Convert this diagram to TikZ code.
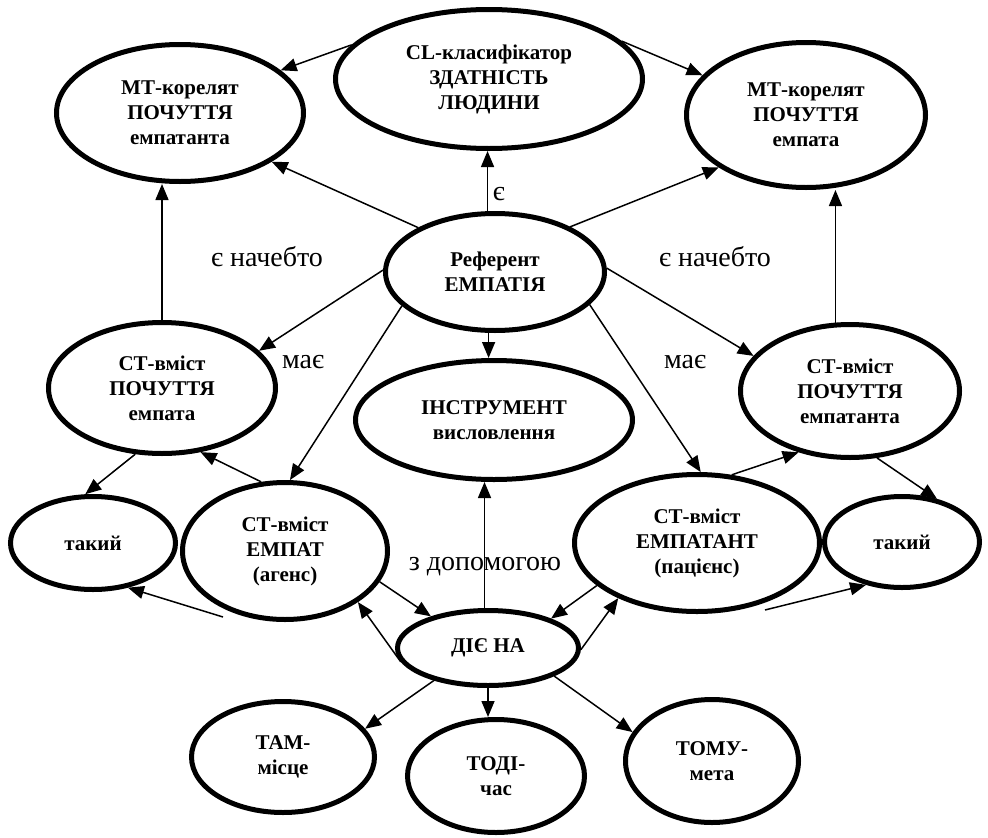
\documentclass[tikz,border=0pt]{standalone}
\usepackage{fontspec}
\setmainfont{Liberation Serif}
\usetikzlibrary{shapes.geometric,arrows.meta}
\begin{document}
\begin{tikzpicture}[x=1pt,y=-1pt,
  oval/.style={ellipse,draw,line width=5pt,inner sep=0pt,align=center,
    font=\bfseries\fontsize{21}{25}\selectfont},
  arr/.style={line width=1.5pt,-{Triangle[length=16pt,width=13pt]}},
  lbl/.style={font=\fontsize{28}{32}\selectfont,anchor=base,inner sep=0pt}]
\useasboundingbox (0,0) rectangle (988,838);

% concepts
\node[oval,minimum width=307pt,minimum height=139pt] (cl) at (489,79) {CL-класифікатор\\ЗДАТНІСТЬ\\ЛЮДИНИ};
\node[oval,minimum width=247pt,minimum height=137pt] (mtl) at (180,113) {МТ-корелят\\ПОЧУТТЯ\\емпатанта};
\node[oval,minimum width=239pt,minimum height=145pt] (mtr) at (806,115) {МТ-корелят\\ПОЧУТТЯ\\емпата};
\node[oval,minimum width=219pt,minimum height=117pt] (ref) at (495,272) {Референт\\ЕМПАТІЯ};
\node[oval,minimum width=227pt,minimum height=131pt] (stl) at (162,388) {СТ-вміст\\ПОЧУТТЯ\\емпата};
\node[oval,minimum width=277pt,minimum height=119pt] (ins) at (494,420) {ІНСТРУМЕНТ\\висловлення};
\node[oval,minimum width=219pt,minimum height=133pt] (str) at (850,391) {СТ-вміст\\ПОЧУТТЯ\\емпатанта};
\node[oval,minimum width=165pt,minimum height=93pt] (takl) at (93,543) {такий};
\node[oval,minimum width=205pt,minimum height=137pt] (agens) at (285,551) {СТ-вміст\\ЕМПАТ\\(агенс)};
\node[oval,minimum width=245pt,minimum height=137pt] (pats) at (697,543) {СТ-вміст\\ЕМПАТАНТ\\(пацієнс)};
\node[oval,minimum width=155pt,minimum height=91pt] (takr) at (902,542) {такий};
\node[oval,minimum width=181pt,minimum height=75pt] (die) at (488,648) {ДІЄ НА};
\node[oval,minimum width=183pt,minimum height=111pt] (tam) at (283,757) {ТАМ-\\місце};
\node[oval,minimum width=177pt,minimum height=113pt] (todi) at (496,776) {ТОДІ-\\час};
\node[oval,minimum width=173pt,minimum height=123pt] (tomu) at (712,761) {ТОМУ-\\мета};

% relation labels
\node[lbl] (l1) at (267,266) {є начебто};
\node[lbl] (l2) at (715,266) {є начебто};
\node[lbl] (l3) at (303,368) {має};
\node[lbl] (l4) at (685,368) {має};
\node[lbl] (l5) at (485,570) {з допомогою};
\node[lbl] (l6) at (499,200) {є};

% loose ends of the two arrows to "такий"
\coordinate (tl) at (223,617);
\coordinate (tr) at (765,610);

% relations
\draw[arr] (cl.166.5) -- (mtl.23.8);
\draw[arr] (cl.16.8) -- (mtr.159.3);
\draw[arr] (ref.97) -- (ref.97 |- cl.south);
\draw[arr] (ref.150.4) -- (mtl.-28.9);
\draw[arr] (ref.31.1) -- (mtr.-149.4);
\draw[arr] (ref.179) -- (stl.21.2);
\draw[arr] (ref.-96) -- (ref.-96 |- ins.north);
\draw[arr] (ref.-160.2) -- (agens.86.1);
\draw[arr] (ref.-19.7) -- (pats.87.5);
\draw[arr] (ref.2.5) -- (str.160.9);
\draw[arr] (stl.north) -- (stl.north |- mtl.south);
\draw[arr] (str.102) -- (str.102 |- mtr.south);
\draw[arr] (stl.248.9) -- (takl.99.1);
\draw[arr] (agens.109.1) -- (stl.-59.9);
\draw[arr] (pats.63.1) -- (str.230.2);
\draw[arr] (str.-68.5) -- (takr.51.5);
\draw[arr] (tl) -- (takl.-52);
\draw[arr] (tr) -- (takr.230.2);
\draw[arr] (agens.-18.9) -- (die.151.2);
\draw[arr] (die.-171.3) -- (agens.-35);
\draw[arr] (die.95) -- (die.95 |- ins.south);
\draw[arr] (pats.-157.6) -- (die.25.5);
\draw[arr] (die.-1.2) -- (pats.-145.6);
\draw[arr] (die.-149.7) -- (tam.19.7);
\draw[arr] (die.south) -- (die.south |- todi.north);
\draw[arr] (die.-23.1) -- (tomu.160.1);
\end{tikzpicture}
\end{document}
